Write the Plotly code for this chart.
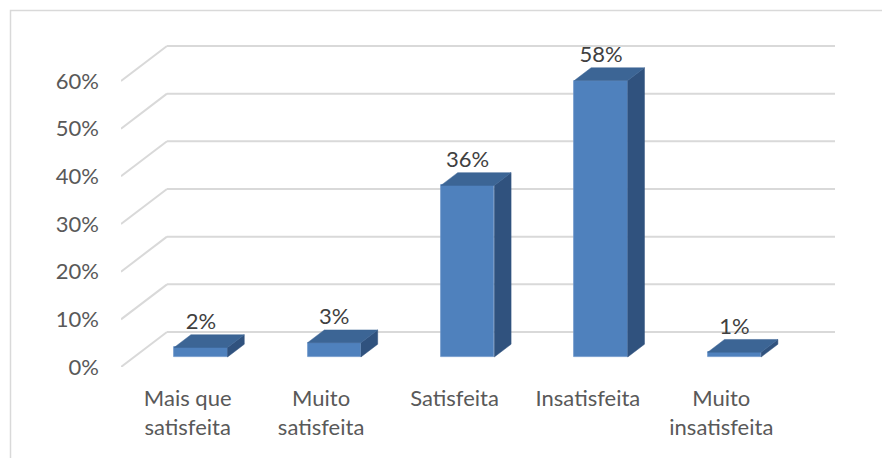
import plotly.graph_objects as go

# ---- data ----
categories = ["Mais que<br>satisfeita", "Muito<br>satisfeita", "Satisfeita", "Insatisfeita", "Muito<br>insatisfeita"]
values = [2, 3, 36, 58, 1]
value_labels = ["2%", "3%", "36%", "58%", "1%"]
tick_values = [0, 10, 20, 30, 40, 50, 60]
tick_labels = ["0%", "10%", "20%", "30%", "40%", "50%", "60%"]

# ---- layout geometry (pixels) ----
W, H = 882, 458
ML, MR, MT, MB = 121, 47, 20, 91
PX_X = 133.4       # px per category slot
PX_Y = 4.767       # px per percent
plot_w = W - ML - MR
plot_h = H - MT - MB
XMAX = plot_w / PX_X
YMAX = plot_h / PX_Y
DX = 46 / PX_X     # full depth shift in x units
DY = 35 / PX_Y     # full depth shift in y units
TF, TB = 0.286, 0.65   # front / back depth of the bars
BW = 0.4

FRONT = "#4F81BD"
TOP = "#3C6595"
SIDE = "#30527E"
GRID = "#D9D9D9"

n = len(values)
xc = [i + 0.5 for i in range(n)]
x_front_c = [c + TF * DX for c in xc]

fig = go.Figure()

# front faces as bars
fig.add_trace(go.Bar(
    x=x_front_c, y=values, base=[TF * DY] * n, width=BW,
    marker=dict(color=FRONT, line=dict(color="#6F97C9", width=0.8)),
    hoverinfo="skip", showlegend=False,
))

# top & side faces
top_x, top_y, side_x, side_y = [], [], [], []
ddx = (TB - TF) * DX
ddy = (TB - TF) * DY
for cx, v in zip(x_front_c, values):
    l, r = cx - BW / 2, cx + BW / 2
    yt = v + TF * DY
    yb = TF * DY
    top_x += [l, r, r + ddx, l + ddx, l, None]
    top_y += [yt, yt, yt + ddy, yt + ddy, yt, None]
    side_x += [r, r + ddx, r + ddx, r, r, None]
    side_y += [yb, yb + ddy, yt + ddy, yt, yb, None]

fig.add_trace(go.Scatter(x=side_x, y=side_y, fill="toself", fillcolor=SIDE,
                         mode="lines", line=dict(color=SIDE, width=0.5),
                         hoverinfo="skip", showlegend=False))
fig.add_trace(go.Scatter(x=top_x, y=top_y, fill="toself", fillcolor=TOP,
                         mode="lines", line=dict(color=TOP, width=0.5),
                         hoverinfo="skip", showlegend=False))

# data labels
fig.add_trace(go.Scatter(
    x=x_front_c, y=[v + TB * DY for v in values], mode="text",
    text=value_labels, textposition="top center",
    textfont=dict(family="Lato", size=22, color="#404040"),
    hoverinfo="skip", showlegend=False,
))

# gridlines (slanted side wall + back wall)
shapes = []
for v in tick_values:
    shapes.append(dict(type="line", xref="x", yref="y", x0=0, y0=v, x1=DX, y1=v + DY,
                       line=dict(color=GRID, width=2), layer="below"))
    shapes.append(dict(type="line", xref="x", yref="y", x0=DX, y0=v + DY, x1=XMAX, y1=v + DY,
                       line=dict(color=GRID, width=2), layer="below"))

# chart border
shapes.append(dict(type="rect", xref="paper", yref="paper",
                   x0=(10.5 - ML) / plot_w, x1=(W + 10 - ML) / plot_w,
                   y0=(H - MB - (H + 10)) / plot_h, y1=(H - MB - 10.5) / plot_h,
                   line=dict(color=GRID, width=1.5), layer="below"))

fig.update_layout(
    width=W, height=H,
    margin=dict(l=ML, r=MR, t=MT, b=MB),
    paper_bgcolor="white", plot_bgcolor="white",
    shapes=shapes,
    bargap=0,
    xaxis=dict(range=[0, XMAX], tickmode="array", tickvals=xc, ticktext=categories,
               showgrid=False, zeroline=False, showline=False, ticks="",
               tickfont=dict(family="Lato", size=22, color="#595959"),
               ticklabelstandoff=16, fixedrange=True),
    yaxis=dict(range=[0, YMAX], tickmode="array", tickvals=tick_values, ticktext=tick_labels,
               showgrid=False, zeroline=False, showline=False, ticks="",
               tickfont=dict(family="Lato", size=22, color="#595959"),
               ticklabelstandoff=21, fixedrange=True),
)

fig.write_html("out.html")
